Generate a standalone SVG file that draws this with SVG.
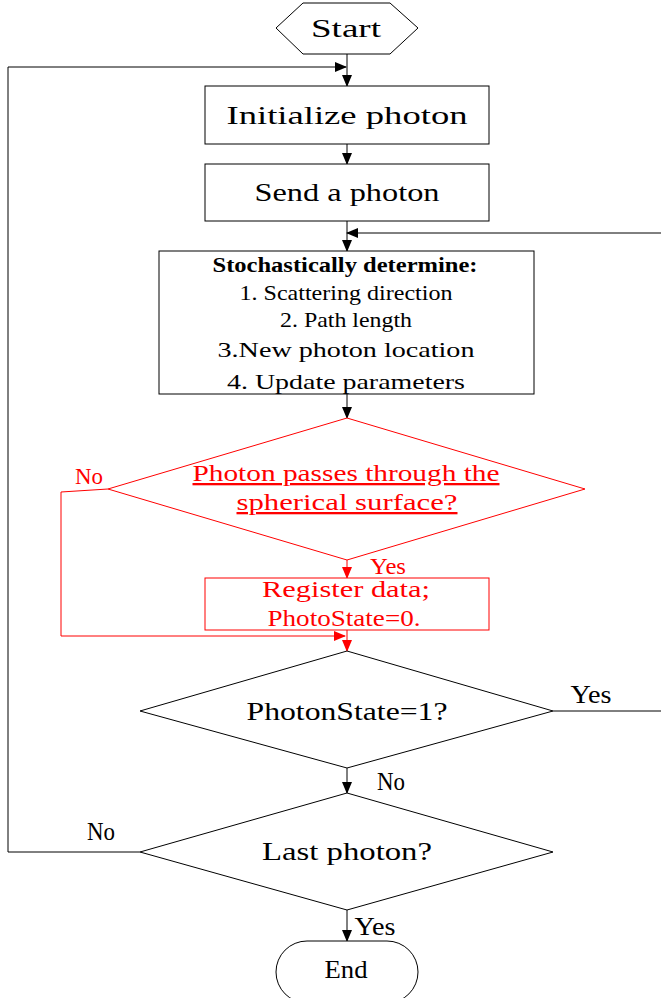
<svg xmlns="http://www.w3.org/2000/svg" width="661" height="998" viewBox="0 0 661 998">
<style>
.s{fill:#fff;stroke:#000;stroke-width:1}
.r{fill:#fff;stroke:#f00;stroke-width:1}
.t{font-family:"Liberation Serif",serif;font-size:26px;fill:#000;text-anchor:middle}
.m{font-family:"Liberation Serif",serif;font-size:21px;fill:#000;text-anchor:middle}
.b{font-family:"Liberation Serif",serif;font-size:20px;font-weight:bold;fill:#000;text-anchor:middle}
.rt{font-family:"Liberation Serif",serif;font-size:23px;fill:#f00;text-anchor:middle}
.l{font-family:"Liberation Serif",serif;font-size:25px;fill:#000;text-anchor:middle}
.c{fill:none;stroke:#000;stroke-width:1}
.cr{fill:none;stroke:#f00;stroke-width:1}
</style>
<defs>
<marker id="ak" markerWidth="12" markerHeight="10" refX="11" refY="5" orient="auto" markerUnits="userSpaceOnUse"><path d="M0,0 L12,5 L0,10 Z" fill="#000"/></marker>
<marker id="ar" markerWidth="12" markerHeight="10" refX="11" refY="5" orient="auto" markerUnits="userSpaceOnUse"><path d="M0,0 L12,5 L0,10 Z" fill="#f00"/></marker>
</defs>
<g id="connectors">
<line class="c" x1="347" y1="54" x2="347" y2="86" marker-end="url(#ak)"/>
<polyline class="c" points="140,852 8,852 8,67 346,67" marker-end="url(#ak)"/>
<line class="c" x1="347" y1="144" x2="347" y2="164" marker-end="url(#ak)"/>
<line class="c" x1="347" y1="221" x2="347" y2="251" marker-end="url(#ak)"/>
<polyline class="c" points="553,711 661,711"/>
<line class="c" x1="661" y1="233" x2="347" y2="233" marker-end="url(#ak)"/>
<line class="c" x1="347" y1="394" x2="347" y2="418" marker-end="url(#ak)"/>
<line class="cr" x1="347" y1="560" x2="347" y2="578" marker-end="url(#ar)"/>
<polyline class="cr" points="108,489 61,492 61,636 345,636" marker-end="url(#ar)"/>
<line class="cr" x1="347" y1="630" x2="347" y2="651" marker-end="url(#ar)"/>
<line class="c" x1="347" y1="768" x2="347" y2="793" marker-end="url(#ak)"/>
<line class="c" x1="347" y1="910" x2="347" y2="941" marker-end="url(#ak)"/>
<text class="rt" x="89" y="484" textLength="28" lengthAdjust="spacingAndGlyphs">No</text>
<text class="rt" x="388" y="574" textLength="36" lengthAdjust="spacingAndGlyphs">Yes</text>
<text class="l" x="591" y="703" textLength="41" lengthAdjust="spacingAndGlyphs">Yes</text>
<text class="l" x="391" y="790" textLength="28" lengthAdjust="spacingAndGlyphs">No</text>
<text class="l" x="101" y="840" textLength="28" lengthAdjust="spacingAndGlyphs">No</text>
<text class="l" x="375" y="935" textLength="41" lengthAdjust="spacingAndGlyphs">Yes</text>
</g>
<g id="start">
<polygon class="s" points="276,28 303,3 390,3 418,28 390,54 303,54"/>
<text class="t" x="346" y="37" textLength="70" lengthAdjust="spacingAndGlyphs">Start</text>
</g>
<g id="init">
<rect class="s" x="205" y="86" width="284" height="58"/>
<text class="t" x="347" y="124" textLength="241" lengthAdjust="spacingAndGlyphs">Initialize photon</text>
</g>
<g id="send">
<rect class="s" x="205" y="164" width="284" height="57"/>
<text class="t" x="347" y="201" textLength="185" lengthAdjust="spacingAndGlyphs">Send a photon</text>
</g>
<g id="stoch">
<rect class="s" x="159" y="251" width="375" height="143"/>
<text class="b" x="345" y="272" textLength="265" lengthAdjust="spacingAndGlyphs">Stochastically  determine:</text>
<text class="m" x="346" y="300" textLength="213" lengthAdjust="spacingAndGlyphs">1. Scattering direction</text>
<text class="m" x="346" y="327" textLength="132" lengthAdjust="spacingAndGlyphs">2. Path length</text>
<text class="m" x="346" y="357" textLength="257" lengthAdjust="spacingAndGlyphs" fill="#333">3.New photon location</text>
<text class="m" x="346" y="389" textLength="238" lengthAdjust="spacingAndGlyphs" fill="#333">4. Update parameters</text>
</g>
<g id="passes">
<polygon class="r" points="347,418 585,489 347,560 108,489"/>
<text class="rt" x="346" y="481" textLength="307" lengthAdjust="spacingAndGlyphs" text-decoration="underline">Photon passes through the</text>
<text class="rt" x="347" y="510" textLength="221" lengthAdjust="spacingAndGlyphs" text-decoration="underline">spherical surface?</text>
</g>
<g id="register">
<rect class="r" x="205" y="578" width="284" height="52"/>
<text class="rt" x="346" y="597" textLength="168" lengthAdjust="spacingAndGlyphs">Register data;</text>
<text class="rt" x="344" y="626" textLength="153" lengthAdjust="spacingAndGlyphs">PhotoState=0.</text>
</g>
<g id="state">
<polygon class="s" points="347,651 553,711 347,768 140,711"/>
<text class="t" x="347" y="720" textLength="201" lengthAdjust="spacingAndGlyphs">PhotonState=1?</text>
</g>
<g id="last">
<polygon class="s" points="347,793 553,852 347,910 140,852"/>
<text class="t" x="347" y="860" textLength="170" lengthAdjust="spacingAndGlyphs">Last photon?</text>
</g>
<g id="end">
<rect class="s" x="276" y="941" width="142" height="62" rx="31" ry="31"/>
<text class="t" x="346" y="978" textLength="43" lengthAdjust="spacingAndGlyphs">End</text>
</g>
</svg>
